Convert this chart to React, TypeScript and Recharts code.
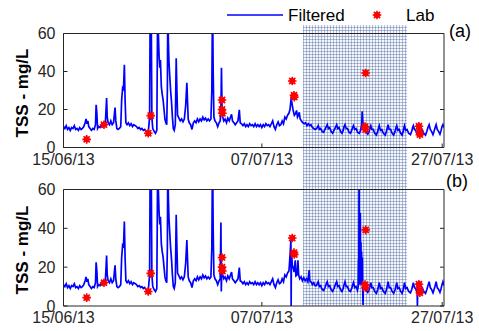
import React from 'react';
import { ComposedChart, Line, Scatter, XAxis, YAxis, ReferenceArea } from 'recharts';

// ---------- axes ----------
const xTicks = [0, 22, 42];
const xTickLabels = ['15/06/13', '07/07/13', '27/07/13'];
const yTicks = [0, 20, 40, 60];
const X_DOMAIN: [number, number] = [0, 42.2];
const Y_DOMAIN: [number, number] = [0, 60];

// shaded (hatched) period, in days since 15/06/13
const shadeStart = 26.56;
const shadeEnd = 38.1;

// ---------- Filtered series: [day, TSS mg/L] ----------
const filteredStart: [number, number][] = [
  [0, 11], [0.15, 10], [0.3, 11.5], [0.45, 9.5], [0.6, 10.5], [0.75, 9], [0.9, 10.5], [1.05, 10],
  [1.2, 11.5], [1.35, 9.5], [1.5, 10], [1.65, 9], [1.8, 10.5], [1.95, 9.5], [2.1, 10], [2.25, 11],
  [2.4, 13], [2.5, 15], [2.6, 12.5], [2.7, 14], [2.8, 11], [2.95, 10], [3.1, 9], [3.25, 10],
  [3.4, 9.5], [3.55, 12], [3.62, 22.5], [3.7, 18], [3.78, 10], [3.9, 11], [4.05, 10.5], [4.2, 12],
  [4.35, 11], [4.5, 12.5], [4.62, 11], [4.72, 20], [4.78, 26], [4.85, 16], [4.95, 13], [5.1, 12],
  [5.25, 14], [5.4, 12], [5.55, 13], [5.65, 18], [5.72, 21], [5.8, 14], [5.92, 10], [6.05, 9.5],
  [6.2, 10], [6.35, 11], [6.45, 25], [6.55, 31], [6.65, 30], [6.75, 43.5], [6.83, 25], [6.92, 13],
  [7.05, 12], [7.2, 13], [7.35, 11.5], [7.5, 12.5], [7.65, 11], [7.8, 12], [7.95, 11.5], [8.1, 11],
  [8.25, 10], [8.4, 10.5], [8.55, 9.5], [8.7, 10], [8.85, 9], [9.0, 9.5], [9.15, 8.5], [9.3, 8],
  [9.42, 9], [9.55, 16], [9.62, 80], [9.72, 80], [9.8, 16], [9.9, 10], [10.05, 8.5], [10.2, 7.5],
  [10.35, 9], [10.45, 80], [10.52, 60], [10.6, 48], [10.68, 42], [10.75, 46], [10.85, 32], [10.95, 28],
  [11.05, 25], [11.15, 20], [11.25, 15], [11.35, 13], [11.45, 12], [11.52, 30], [11.57, 80], [11.63, 56],
  [11.7, 45], [11.78, 38], [11.88, 30], [11.98, 24], [12.08, 16], [12.18, 10], [12.28, 9], [12.4, 12],
  [12.5, 47], [12.58, 30], [12.65, 17], [12.8, 15.5], [12.95, 14], [13.1, 15], [13.25, 13.5], [13.4, 15],
  [13.55, 22], [13.68, 34], [13.75, 25], [13.83, 15], [13.95, 13], [14.1, 12], [14.25, 9.5], [14.4, 13],
  [14.55, 14], [14.7, 13], [14.85, 15], [15.0, 13.5], [15.15, 15], [15.3, 14], [15.45, 16], [15.6, 14.5],
  [15.75, 15.5], [15.9, 14], [16.05, 15], [16.2, 14], [16.35, 15], [16.45, 30], [16.53, 80], [16.6, 40],
  [16.68, 16], [16.8, 14], [16.95, 13], [17.1, 11], [17.25, 13], [17.38, 14],
];

const filteredMidA: [number, number][] = [
  [17.46, 20], [17.52, 42], [17.58, 22], [17.66, 16],
];

const filteredMidB: [number, number][] = [
  [17.46, 43], [17.5, 7.5], [17.56, 20], [17.66, 16],
];

const filteredMiddle: [number, number][] = [
  [17.78, 14], [17.92, 15], [18.08, 13], [18.22, 15.5], [18.38, 14], [18.52, 16], [18.64, 17.5], [18.74, 14],
  [18.9, 13], [19.05, 12], [19.2, 13], [19.35, 14], [19.5, 19.8], [19.6, 13], [19.75, 12.5], [19.9, 11.5],
  [20.05, 12.5], [20.2, 11], [20.35, 12], [20.5, 11], [20.65, 12.5], [20.8, 11.5], [20.95, 12], [21.1, 11],
  [21.25, 12.5], [21.4, 11], [21.55, 12], [21.7, 11], [21.85, 12], [22.0, 10.5], [22.15, 12], [22.3, 11],
  [22.45, 12.5], [22.6, 11.5], [22.75, 12], [22.9, 11], [23.05, 12.5], [23.2, 14], [23.35, 11], [23.5, 9.5],
  [23.65, 12], [23.8, 13.5], [23.95, 11.5], [24.1, 12], [24.25, 14], [24.4, 12.5], [24.55, 16], [24.7, 15],
  [24.85, 17], [25.0, 18],
];

const filteredEndA: [number, number][] = [
  [25.12, 20], [25.25, 26], [25.35, 23], [25.45, 20], [25.6, 17], [25.75, 18], [25.85, 19.5], [25.95, 16],
  [26.05, 17], [26.15, 18.5], [26.25, 15], [26.4, 14], [26.55, 13], [26.7, 12.5], [26.85, 13], [27.0, 11.5],
  [27.15, 12.5], [27.3, 11.5], [27.45, 12], [27.6, 10.5], [27.75, 10], [27.9, 9.5], [28.05, 10],
  [28.15, 10.5], [28.25, 11.5], [28.38, 9.5], [28.52, 10], [28.68, 8.5], [28.85, 8],
  [29.0, 9.5], [29.15, 11], [29.25, 12], [29.38, 10], [29.52, 10.5], [29.68, 8.5], [29.85, 7.5],
  [30.0, 9], [30.15, 10.5], [30.3, 12], [30.42, 10], [30.56, 10.5], [30.72, 8.5], [30.88, 7.5],
  [31.02, 9], [31.12, 11], [31.22, 12], [31.35, 10], [31.5, 10], [31.66, 8], [31.82, 7.5],
  [31.96, 9], [32.06, 10.5], [32.16, 11.5], [32.3, 9.5], [32.45, 10], [32.62, 8], [32.8, 7.5],
  [32.95, 9], [33.08, 12], [33.12, 19], [33.2, 13], [33.3, 10.5], [33.45, 9.5], [33.6, 8], [33.75, 7],
  [33.9, 8.5], [34.0, 10.5], [34.08, 11.5], [34.2, 9.5], [34.35, 9.5], [34.52, 7.5], [34.7, 6.5],
  [34.85, 8.5], [34.95, 10.5], [35.02, 11.5], [35.15, 9], [35.3, 9.5], [35.48, 7.5], [35.68, 6.5],
  [35.82, 8.5], [35.92, 10.5], [36.0, 12], [36.12, 9.5], [36.28, 9.5], [36.45, 7.5], [36.62, 6.5],
  [36.78, 8.5], [36.88, 10.5], [36.96, 11.5], [37.08, 9], [37.22, 9.5], [37.4, 7.5], [37.55, 6.5],
  [37.68, 8.5], [37.76, 10.5], [37.82, 11.5], [37.95, 9], [38.1, 9.5], [38.28, 7.5], [38.48, 6.8],
  [38.62, 8.5], [38.72, 10.5], [38.8, 11.5], [38.92, 9.5], [39.05, 9], [39.2, 7.5], [39.32, 7],
  [39.45, 9.5], [39.55, 11], [39.65, 10], [39.78, 9.5], [39.95, 7.5], [40.15, 6.5],
  [40.3, 8.5], [40.42, 10.5], [40.55, 12], [40.68, 9.5], [40.82, 8.5], [40.98, 6.8],
  [41.1, 8.5], [41.22, 10.5], [41.33, 12], [41.45, 9.5], [41.6, 8.5], [41.75, 7],
  [41.88, 9], [41.98, 11], [42.08, 12], [42.2, 10.5],
];

const filteredEndB: [number, number][] = [
  [25.05, 21], [25.15, 28], [25.22, 34], [25.25, 0], [25.28, 28], [25.38, 21], [25.48, 19.5], [25.58, 17.5],
  [25.7, 23.5], [25.78, 15.5], [25.9, 16], [26.0, 23.5], [26.08, 16], [26.2, 14], [26.35, 15], [26.5, 13],
  [26.65, 14.5], [26.8, 13], [26.95, 14], [27.1, 12.5], [27.25, 18.5], [27.32, 13], [27.45, 12.5], [27.6, 11],
  [27.75, 12], [27.9, 10.5], [28.05, 10.5],
  [28.15, 11.5], [28.25, 12.5], [28.38, 10], [28.52, 10.5], [28.68, 8.5], [28.85, 8],
  [29.0, 9.5], [29.15, 11.5], [29.25, 12.5], [29.38, 10], [29.52, 10.5], [29.68, 8.5], [29.85, 7.5],
  [30.0, 9], [30.15, 11], [30.3, 12.5], [30.42, 10], [30.56, 10.5], [30.72, 8.5], [30.88, 7.5],
  [31.02, 9], [31.12, 11], [31.22, 12.5], [31.35, 10], [31.5, 10], [31.66, 8], [31.82, 7.5],
  [31.96, 9], [32.06, 10.5], [32.16, 12], [32.3, 9.5], [32.45, 10], [32.6, 8], [32.68, 10],
  [32.72, 24], [32.75, 11], [32.78, 80], [32.81, 14], [32.85, 36], [32.88, 11], [32.92, 48], [32.95, 12],
  [32.99, 33], [33.02, 11], [33.06, 28], [33.1, 12], [33.14, 25], [33.18, 10], [33.22, 0.5], [33.26, 11],
  [33.35, 10.5], [33.45, 9.5], [33.6, 8], [33.75, 7],
  [33.9, 8.5], [34.0, 10.5], [34.08, 12], [34.2, 9.5], [34.35, 9.5], [34.52, 7.5], [34.7, 6.5],
  [34.85, 8.5], [34.95, 10.5], [35.02, 12], [35.15, 9], [35.3, 9.5], [35.48, 7.5], [35.68, 6.5],
  [35.82, 8.5], [35.92, 10.5], [36.0, 12.5], [36.12, 9.5], [36.28, 9.5], [36.45, 7.5], [36.62, 6.5],
  [36.78, 8.5], [36.88, 10.5], [36.96, 12], [37.08, 9], [37.22, 9.5], [37.4, 7.5], [37.55, 6.5],
  [37.68, 8.5], [37.76, 10.5], [37.82, 12], [37.95, 9], [38.1, 9.5], [38.28, 7.5], [38.48, 6.8],
  [38.62, 8.5], [38.72, 10.5], [38.8, 12], [38.92, 9.5], [39.05, 9], [39.18, 7.5], [39.22, 9],
  [39.25, 0], [39.29, 9.5], [39.45, 10], [39.55, 11.5], [39.65, 10], [39.78, 9.5], [39.95, 7.5], [40.15, 6.5],
  [40.3, 8.5], [40.42, 10.5], [40.55, 12.5], [40.68, 9.5], [40.82, 8.5], [40.98, 6.8],
  [41.1, 8.5], [41.22, 10.5], [41.33, 12.5], [41.45, 9.5], [41.6, 8.5], [41.75, 7],
  [41.88, 9], [41.98, 11], [42.08, 12.5], [42.2, 10.5],
];

// ---------- Lab samples ----------
const labDays = [2.57, 4.49, 9.4, 9.67, 17.58, 17.58, 17.62, 25.37, 25.56, 25.6, 33.51, 33.44, 33.5, 39.42, 39.5, 39.52];
const labValues = [4.3, 12, 7.5, 16.8, 25, 20, 18, 35, 27.5, 26.5, 39.2, 11, 9.5, 11.2, 8, 6.8];

// ---------- styles ----------
const FONT = '"Liberation Sans", Arial, Helvetica, sans-serif';
const AXIS_COLOR = '#262626';
const TEXT_COLOR = '#262626';
const LINE_COLOR = '#0000ff';
const LAB_COLOR = '#ff0000';
const TICK_LEN = 4;

const toPoints = (rows: [number, number][]) => rows.map(([day, v]) => ({ day, v }));
const seriesA = toPoints([...filteredStart, ...filteredMidA, ...filteredMiddle, ...filteredEndA]);
const seriesB = toPoints([...filteredStart, ...filteredMidB, ...filteredMiddle, ...filteredEndB]);
const labData = labDays.map((day, i) => ({ day, v: labValues[i] }));

const LabMarker = (props: any) => {
  const { cx, cy } = props;
  if (cx == null || cy == null) return null;
  const r = 4.3;
  const d = r * 0.72;
  return (
    <g>
      <circle cx={cx} cy={cy} r={3} fill={LAB_COLOR} />
      <line x1={cx - r} x2={cx + r} y1={cy} y2={cy} stroke={LAB_COLOR} strokeWidth={1.6} />
      <line x1={cx} x2={cx} y1={cy - r} y2={cy + r} stroke={LAB_COLOR} strokeWidth={1.6} />
      <line x1={cx - d} x2={cx + d} y1={cy - d} y2={cy + d} stroke={LAB_COLOR} strokeWidth={1.6} />
      <line x1={cx - d} x2={cx + d} y1={cy + d} y2={cy - d} stroke={LAB_COLOR} strokeWidth={1.6} />
    </g>
  );
};

const BottomTick = (props: any) => {
  const { x, y, payload } = props;
  const idx = xTicks.indexOf(payload.value);
  return (
    <g>
      <line x1={x} x2={x} y1={y} y2={y - TICK_LEN} stroke={AXIS_COLOR} />
      <text x={x} y={y + 17} textAnchor="middle" fontSize={16} fill={TEXT_COLOR} fontFamily={FONT}>
        {idx >= 0 ? xTickLabels[idx] : ''}
      </text>
    </g>
  );
};

const TopTick = (props: any) => {
  const { x, y } = props;
  return <line x1={x} x2={x} y1={y} y2={y + TICK_LEN} stroke={AXIS_COLOR} />;
};

const LeftTick = (props: any) => {
  const { x, y, payload } = props;
  return (
    <g>
      <line x1={x} x2={x + TICK_LEN} y1={y} y2={y} stroke={AXIS_COLOR} />
      <text x={x - 8} y={y + 5.7} textAnchor="end" fontSize={16} fill={TEXT_COLOR} fontFamily={FONT}>
        {payload.value}
      </text>
    </g>
  );
};

const RightTick = (props: any) => {
  const { x, y } = props;
  return <line x1={x} x2={x - TICK_LEN} y1={y} y2={y} stroke={AXIS_COLOR} />;
};

type PanelProps = {
  id: string;
  height: number;
  margin: { top: number; right: number; bottom: number; left: number };
  data: { day: number; v: number }[];
  shadeLow: number;
  shadeHigh: number;
};

const Panel = ({ id, height, margin, data, shadeLow, shadeHigh }: PanelProps) => (
  <ComposedChart width={479} height={height} margin={margin}>
    <defs>
      <pattern id={`hatch-${id}`} width={3} height={3} patternUnits="userSpaceOnUse">
        <rect x={0} y={0} width={3} height={3} fill="#f4f6fb" />
        <rect x={0} y={0} width={3} height={1} fill="#b2bfd9" />
        <rect x={0} y={0} width={1} height={3} fill="#b2bfd9" />
        <rect x={0} y={0} width={1} height={1} fill="#8596ba" />
      </pattern>
    </defs>
    <ReferenceArea
      x1={shadeStart}
      x2={shadeEnd}
      y1={shadeLow}
      y2={shadeHigh}
      ifOverflow="visible"
      fill={`url(#hatch-${id})`}
      fillOpacity={1}
      stroke="none"
    />
    <XAxis
      dataKey="day"
      type="number"
      domain={X_DOMAIN}
      ticks={xTicks}
      interval={0}
      allowDataOverflow
      height={1}
      tickSize={0}
      tickMargin={0}
      tickLine={false}
      tick={<BottomTick />}
      axisLine={{ stroke: AXIS_COLOR }}
    />
    <XAxis
      xAxisId="top"
      orientation="top"
      type="number"
      domain={X_DOMAIN}
      ticks={xTicks}
      interval={0}
      allowDataOverflow
      height={1}
      tickSize={0}
      tickMargin={0}
      tickLine={false}
      tick={<TopTick />}
      axisLine={{ stroke: AXIS_COLOR }}
    />
    <YAxis
      type="number"
      domain={Y_DOMAIN}
      ticks={yTicks}
      interval={0}
      allowDataOverflow
      width={1}
      tickSize={0}
      tickMargin={0}
      tickLine={false}
      tick={<LeftTick />}
      axisLine={{ stroke: AXIS_COLOR }}
    />
    <YAxis
      yAxisId="right"
      orientation="right"
      type="number"
      domain={Y_DOMAIN}
      ticks={yTicks}
      interval={0}
      allowDataOverflow
      width={1}
      tickSize={0}
      tickMargin={0}
      tickLine={false}
      tick={<RightTick />}
      axisLine={{ stroke: AXIS_COLOR }}
    />
    <Line
      data={data}
      dataKey="v"
      type="linear"
      stroke={LINE_COLOR}
      strokeWidth={1.7}
      dot={false}
      activeDot={false}
      isAnimationActive={false}
    />
    <Scatter data={labData} dataKey="v" shape={<LabMarker />} isAnimationActive={false} />
  </ComposedChart>
);

export default function App() {
  return (
    <div style={{ position: 'absolute', left: 0, top: 0, width: 479, height: 331, background: '#ffffff', overflow: 'hidden' }}>
      <div style={{ position: 'absolute', left: 0, top: 0 }}>
        <Panel
          id="a"
          height={175}
          margin={{ top: 32.5, right: 34, bottom: 26.5, left: 62.5 }}
          data={seriesA}
          shadeLow={-17.5 / 1.9}
          shadeHigh={64.5}
        />
      </div>
      <div style={{ position: 'absolute', left: 0, top: 165 }}>
        <Panel
          id="b"
          height={166}
          margin={{ top: 23.5, right: 34, bottom: 24, left: 62.5 }}
          data={seriesB}
          shadeLow={0}
          shadeHigh={80}
        />
      </div>
      <svg
        width={479}
        height={331}
        style={{ position: 'absolute', left: 0, top: 0, pointerEvents: 'none' }}
      >
        <line x1={227} x2={283} y1={15} y2={15} stroke={LINE_COLOR} strokeWidth={1.4} />
        <text x={288} y={21.2} fontSize={17} fill="#000" fontFamily={FONT}>Filtered</text>
        <LabMarker cx={377} cy={15} />
        <text x={406} y={21.2} fontSize={17} fill="#000" fontFamily={FONT}>Lab</text>
        <text x={449} y={37} fontSize={18} fill="#000" fontFamily={FONT}>(a)</text>
        <text x={446} y={187} fontSize={18} fill="#000" fontFamily={FONT}>(b)</text>
        <text transform="translate(28,93) rotate(-90)" textAnchor="middle" fontSize={17} fontWeight="bold" fill="#000" fontFamily={FONT}>
          TSS - mg/L
        </text>
        <text transform="translate(28,250) rotate(-90)" textAnchor="middle" fontSize={17} fontWeight="bold" fill="#000" fontFamily={FONT}>
          TSS - mg/L
        </text>
      </svg>
    </div>
  );
}
